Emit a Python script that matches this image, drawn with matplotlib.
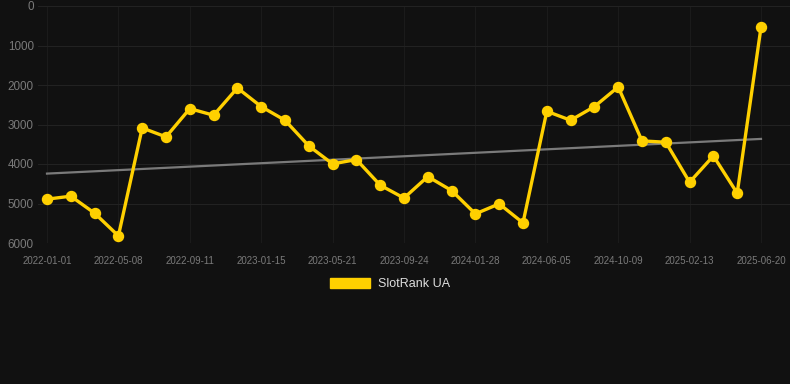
import matplotlib
matplotlib.use("Agg")
import matplotlib.pyplot as plt
from matplotlib.patches import Patch
import numpy as np

tick_labels = ["2022-01-01", "2022-05-08", "2022-09-11", "2023-01-15", "2023-05-21",
               "2023-09-24", "2024-01-28", "2024-06-05", "2024-10-09", "2025-02-13",
               "2025-06-20"]
ranks = [4890, 4815, 5245, 5820, 3087, 3314, 2598, 2766, 2075, 2547,
         2893, 3542, 3997, 3888, 4537, 4862, 4318, 4672, 5262, 5009,
         5490, 2665, 2893, 2547, 2049, 3415, 3449, 4461, 3795, 4739, 540]
trend_ends = [4243, 3365]
series_name = "SlotRank UA"

plt.rcParams['font.family'] = ['Liberation Sans', 'DejaVu Sans']
W, H = 790, 384
fig = plt.figure(figsize=(W/100, H/100), dpi=100, facecolor="#111111")
ax = fig.add_axes([38/W, 1-243/H, (W-38)/W, (243-6)/H])
ax.set_facecolor("#111111")

x = np.arange(len(ranks))
ax.plot([x[0], x[-1]], trend_ends, color="#7a7a7a", lw=1.6, zorder=2)
ax.plot(x, ranks, color="#FFD000", lw=2.4, marker="o", ms=7.2, zorder=3)

ax.set_ylim(6000, 0)
ax.set_yticks([0, 1000, 2000, 3000, 4000, 5000, 6000])
ax.set_xlim(-9/23.8, (790-47)/23.8)
ax.set_xticks(x[::3])
ax.set_xticklabels(tick_labels)
ax.grid(True, axis='y', color="#222222", lw=0.8)
ax.grid(True, axis='x', color="#1b1b1b", lw=0.8)
for s in ax.spines.values():
    s.set_visible(False)
ax.tick_params(axis='y', length=0, pad=3, labelsize=8.4, labelcolor="#7a7a7a")
ax.tick_params(axis='x', length=0, pad=9, labelsize=7, labelcolor="#7a7a7a")

fig.legend(handles=[Patch(facecolor="#FFD000", edgecolor="#FFD000")],
           labels=[series_name], loc="center", bbox_to_anchor=(390/W, 1-284/H),
           frameon=False, fontsize=9, labelcolor="#dddddd",
           handlelength=3.2, handleheight=0.8, handletextpad=0.6)

fig.savefig("out.png", dpi=100, facecolor="#111111")
